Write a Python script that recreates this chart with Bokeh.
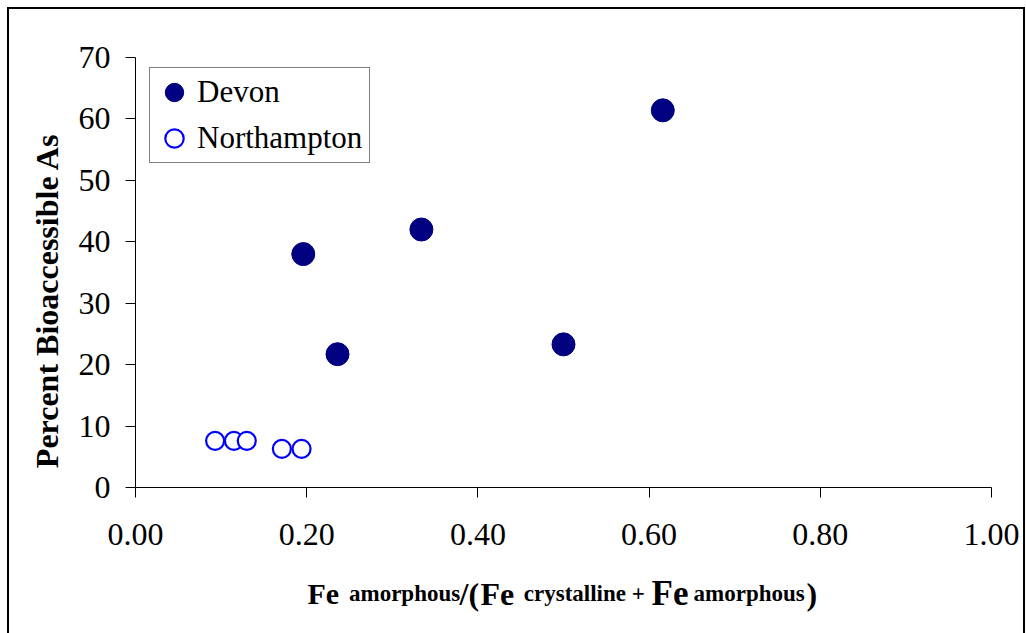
from bokeh.plotting import figure
from bokeh.layouts import column
from bokeh.models import Range1d, FixedTicker, NumeralTickFormatter, Legend, LegendItem, ColumnDataSource
from bokeh.core.properties import value
from bokeh.embed import file_html
from bokeh.resources import INLINE

# ---- data ----
devon_x = [0.196, 0.236, 0.334, 0.500, 0.616]
devon_y = [38.0, 21.7, 42.0, 23.3, 61.4]
north_x = [0.093, 0.115, 0.130, 0.171, 0.194]
north_y = [7.6, 7.6, 7.6, 6.3, 6.3]

series_names = ["Devon", "Northampton"]
x_ticks = [0.0, 0.2, 0.4, 0.6, 0.8, 1.0]
y_ticks = [0, 10, 20, 30, 40, 50, 60, 70]

y_title = "Percent Bioaccessible As"
# x title pieces (rich text): text, font size, left position (fraction of axis width)
x_title_parts = ["Fe", "amorphous", "/(", "Fe", "crystalline +", "Fe", "amorphous", ")"]
x_title_sizes = ["30px", "23px", "32px", "32px", "23px", "35px", "23px", "32px"]
x_title_pos = [0.2009, 0.2494, 0.3785, 0.4030, 0.4536, 0.6028, 0.6519, 0.7839]

SERIF = "Liberation Serif"
BORDER = "inset 7px 7px 0 0 #ffffff, inset 9px 9px 0 0 #000000, inset -2px 0 0 0 #000000"

x_range = Range1d(0, 1)

p = figure(frame_width=856, frame_height=430,
           x_range=x_range, y_range=Range1d(0, 70),
           output_backend="svg", toolbar_location=None,
           min_border_left=135, min_border_right=34,
           min_border_top=57, min_border_bottom=75)
p.border_fill_color = None
p.background_fill_color = "white"
p.outline_line_color = None
p.xgrid.visible = False
p.ygrid.visible = False

for ax in (p.xaxis, p.yaxis):
    ax.axis_line_color = "black"
    ax.axis_line_width = 1
    ax.major_tick_line_color = "black"
    ax.major_tick_out = 10
    ax.major_tick_in = 0
    ax.minor_tick_out = 0
    ax.minor_tick_in = 0
    ax.major_label_text_font = SERIF
    ax.major_label_text_font_size = "32px"
    ax.major_label_text_color = "black"

p.xaxis.ticker = FixedTicker(ticks=x_ticks)
p.xaxis.formatter = NumeralTickFormatter(format="0.00")
p.xaxis.major_label_standoff = 26
p.yaxis.ticker = FixedTicker(ticks=y_ticks)
p.yaxis.major_label_standoff = 15

# y title (trailing no-break spaces shift the centred title down like the original)
p.yaxis.axis_label = y_title + "\u00a0" * 7
p.yaxis.axis_label_text_font = SERIF
p.yaxis.axis_label_text_font_size = "32px"
p.yaxis.axis_label_text_font_style = "bold"
p.yaxis.axis_label_text_color = "black"
p.yaxis.axis_label_standoff = 11

r1 = p.scatter(devon_x, devon_y, marker="circle", size=23,
               fill_color="#000080", line_color="#000080")
r2 = p.scatter(north_x, north_y, marker="circle", size=18,
               fill_color="white", line_color="#0000FF", line_width=2.2)

legend = Legend(items=[LegendItem(label=series_names[0], renderers=[r1]),
                       LegendItem(label=series_names[1], renderers=[r2])],
                location=(14, 324),
                glyph_width=46, glyph_height=46, spacing=0, padding=1,
                label_standoff=0, label_width=171,
                label_text_font=SERIF, label_text_font_size="31px",
                label_text_color="black",
                border_line_color="black", border_line_width=1,
                background_fill_color="white", background_fill_alpha=1.0)
p.add_layout(legend)

# x title strip (rich text with mixed sizes), same horizontal scale as the plot
p2 = figure(frame_width=856, frame_height=71,
            x_range=x_range, y_range=Range1d(0, 1),
            x_axis_type=None, y_axis_type=None,
            output_backend="svg", toolbar_location=None,
            min_border_left=135, min_border_right=34,
            min_border_top=0, min_border_bottom=0)
p2.border_fill_color = None
p2.background_fill_color = None
p2.outline_line_color = None
p2.xgrid.visible = False
p2.ygrid.visible = False

src = ColumnDataSource(dict(x=x_title_pos, y=[0.563] * len(x_title_parts),
                            text=x_title_parts, size=x_title_sizes))
p2.text(x="x", y="y", text="text", source=src, text_font_size="size",
        text_font=value(SERIF), text_font_style="bold", text_color="black",
        text_align="left", text_baseline="alphabetic")

layout = column(p, p2, spacing=0, styles={"box-shadow": BORDER})

open("out.html", "w").write(file_html(layout, INLINE))
